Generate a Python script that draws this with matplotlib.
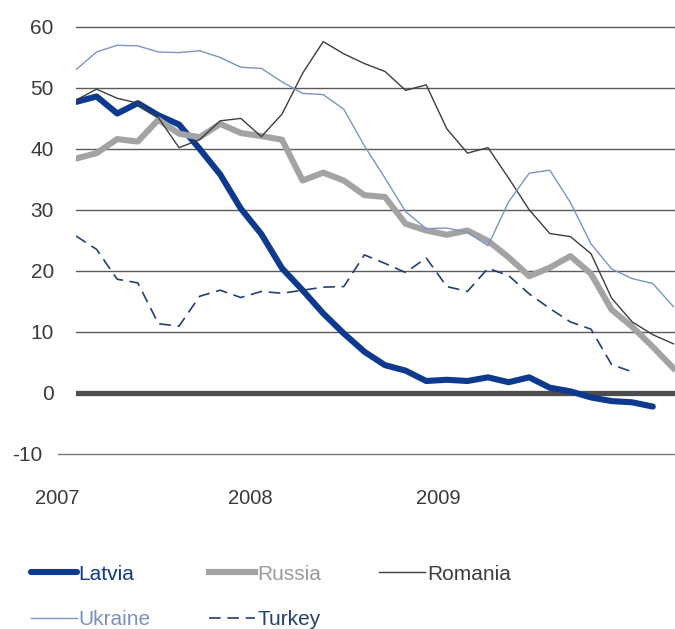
import matplotlib.pyplot as plt
import matplotlib.transforms as mtransforms

# monthly readings, first point = Jan 2007
latvia = [47.7, 48.6, 45.8, 47.5, 45.5, 44.0, 40.0, 35.8, 30.2, 26.0,
          20.4, 16.8, 13.0, 9.7, 6.7, 4.5, 3.6, 1.9, 2.1, 1.9,
          2.5, 1.7, 2.5, 0.8, 0.2, -0.8, -1.4, -1.6, -2.3]
russia = [38.4, 39.3, 41.6, 41.2, 44.8, 42.5, 41.9, 44.1, 42.6, 42.1,
          41.5, 34.8, 36.1, 34.8, 32.4, 32.1, 27.7, 26.6, 25.9, 26.6,
          24.9, 22.2, 19.1, 20.5, 22.4, 19.5, 13.6, 10.8, 7.5, 4.0]
romania = [48.0, 49.8, 48.3, 47.5, 45.1, 40.2, 41.5, 44.6, 45.0, 42.0,
           45.7, 52.4, 57.6, 55.6, 54.0, 52.7, 49.6, 50.5, 43.3, 39.3,
           40.2, 35.2, 30.0, 26.1, 25.6, 22.8, 15.5, 11.6, 9.5, 8.0]
ukraine = [53.0, 55.9, 57.0, 56.9, 55.9, 55.8, 56.1, 55.0, 53.4, 53.2,
           51.0, 49.1, 48.9, 46.5, 40.5, 35.2, 29.7, 26.9, 27.0, 26.3,
           24.1, 31.3, 36.0, 36.5, 31.2, 24.4, 20.3, 18.7, 17.9, 14.1]
turkey = [25.7, 23.5, 18.6, 18.0, 11.3, 10.9, 15.8, 16.8, 15.6, 16.6,
          16.3, 16.8, 17.3, 17.4, 22.6, 21.2, 19.7, 22.1, 17.4, 16.6,
          20.4, 19.2, 16.2, 13.8, 11.6, 10.4, 4.6, 3.4]

y_ticks = [-10, 0, 10, 20, 30, 40, 50, 60]
year_labels = ['2007', '2008', '2009']
year_pos = [-0.92, 8.45, 17.6]

c_latvia = '#0d3a8e'
c_russia = '#a3a3a3'
c_romania = '#3d3d3d'
c_ukraine = '#7b93c6'
c_turkey = '#243f73'
txt = '#3a3a3a'

plt.rcParams['font.family'] = ['Liberation Sans', 'DejaVu Sans']
plt.rcParams['axes.unicode_minus'] = False

fig = plt.figure(figsize=(6.75, 6.29), dpi=100)
ax = fig.add_axes([76 / 675, (629 - 453.5) / 629, 599 / 675, 432.6 / 629])
ax.set_xlim(0, 599 / 20.6)
ax.set_ylim(-10, 61)

for v in y_ticks:
    if v == 0:
        ax.axhline(v, color='#4d4d4d', lw=3.8, zorder=1)
    elif v == -10:
        ax.axhline(v, xmin=-18 / 599, xmax=1, color='#7a7a7a', lw=1.0,
                   clip_on=False, zorder=1)
    else:
        ax.axhline(v, color='#5a5a5a', lw=1.0, zorder=1)

ax.plot(range(len(latvia)), latvia, color=c_latvia, lw=4.4,
        solid_joinstyle='round', solid_capstyle='round', zorder=2, label='Latvia')
ax.plot(range(len(russia)), russia, color=c_russia, lw=4.4,
        solid_joinstyle='round', zorder=3, label='Russia')
ax.plot(range(len(romania)), romania, color=c_romania, lw=1.0, zorder=4,
        label='Romania')
ax.plot(range(len(ukraine)), ukraine, color=c_ukraine, lw=1.0, zorder=4,
        label='Ukraine')
ax.plot(range(len(turkey)), turkey, color=c_turkey, lw=1.2, dashes=(7, 4),
        zorder=4, label='Turkey')

for s in ax.spines.values():
    s.set_visible(False)
ax.set_xticks([])
ax.set_yticks(y_ticks)
ax.tick_params(axis='y', length=0, pad=16, labelsize=15, labelcolor=txt)

# the bottom label sits further left, next to the longer base line
low = ax.yaxis.get_major_ticks()[0].label1
low.set_transform(low.get_transform() +
                  mtransforms.ScaledTranslation(-11 / 100, 0, fig.dpi_scale_trans))

# year labels sit under the axis
trans = mtransforms.blended_transform_factory(ax.transData, ax.transAxes)
for p, lab in zip(year_pos, year_labels):
    ax.text(p, -45 / 432.6, lab, transform=trans, ha='center', va='center',
            fontsize=14.5, color=txt, clip_on=False)

handles, labels = ax.get_legend_handles_labels()
order = [0, 3, 1, 4, 2]
leg = fig.legend([handles[i] for i in order], [labels[i] for i in order],
                 ncol=3, loc='upper left', bbox_to_anchor=(12 / 675, 1 - 546 / 629),
                 frameon=False, handlelength=2.2, handletextpad=0.1,
                 columnspacing=2.8, labelspacing=1.25,
                 prop={'size': 15})
text_colors = {'Latvia': c_latvia, 'Russia': '#9a9a9a', 'Romania': c_romania,
               'Ukraine': '#7b8fbf', 'Turkey': c_turkey}
for t in leg.get_texts():
    t.set_color(text_colors[t.get_text()])

fig.savefig('out.png', dpi=100)
